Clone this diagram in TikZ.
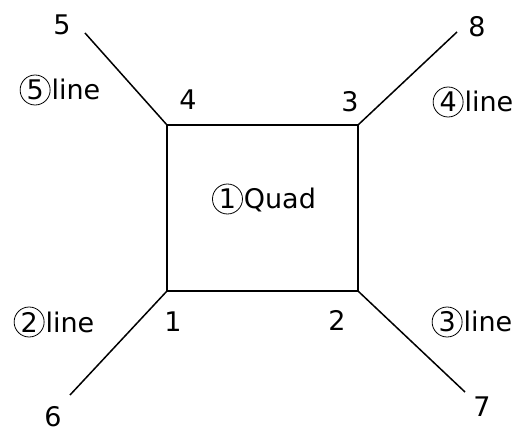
\documentclass[tikz,border=0pt]{standalone}
\usepackage{fontspec}
\setmainfont{DejaVu Sans}
\newcommand{\cnum}[1]{\tikz[baseline=(c.base)]\node[circle,draw,line width=0.8pt,inner sep=0pt,minimum size=30pt,font=\fontsize{27}{30}\selectfont] (c) {#1};}
\begin{document}
\begin{tikzpicture}[x=1pt,y=-1pt,
  lbl/.style={font=\fontsize{27}{30}\selectfont, inner sep=0pt},
  edge/.style={line width=2.2pt},
  leg/.style={line width=1.5pt}]
\useasboundingbox (0,0) rectangle (523,433);
\coordinate (p1) at (167,291);
\coordinate (p2) at (358,291);
\coordinate (p3) at (358,125);
\coordinate (p4) at (167,125);
\coordinate (p5) at (85,33);
\coordinate (p6) at (70,395);
\coordinate (p7) at (465,392);
\coordinate (p8) at (457,32);
\draw[edge] (p1) -- (p2) -- (p3) -- (p4) -- cycle;
\draw[leg] (p4) -- (p5);
\draw[leg] (p3) -- (p8);
\draw[leg] (p1) -- (p6);
\draw[leg] (p2) -- (p7);
\node[lbl] (n1) at (173,322) {1};
\node[lbl] (n2) at (337,320) {2};
\node[lbl] (n3) at (350,102) {3};
\node[lbl] (n4) at (188,100) {4};
\node[lbl] (n5) at (62,25) {5};
\node[lbl] (n6) at (53,417) {6};
\node[lbl] (n7) at (482,407) {7};
\node[lbl] (n8) at (477,27) {8};
\node[lbl] (t1) at (264,199) {\cnum{1}\kern1pt Quad};
\node[lbl] (t2) at (54,322) {\cnum{2}\kern1pt line};
\node[lbl] (t3) at (472,322) {\cnum{3}\kern1pt line};
\node[lbl] (t4) at (473,102) {\cnum{4}\kern1pt line};
\node[lbl] (t5) at (60,90) {\cnum{5}\kern1pt line};
\end{tikzpicture}
\end{document}
